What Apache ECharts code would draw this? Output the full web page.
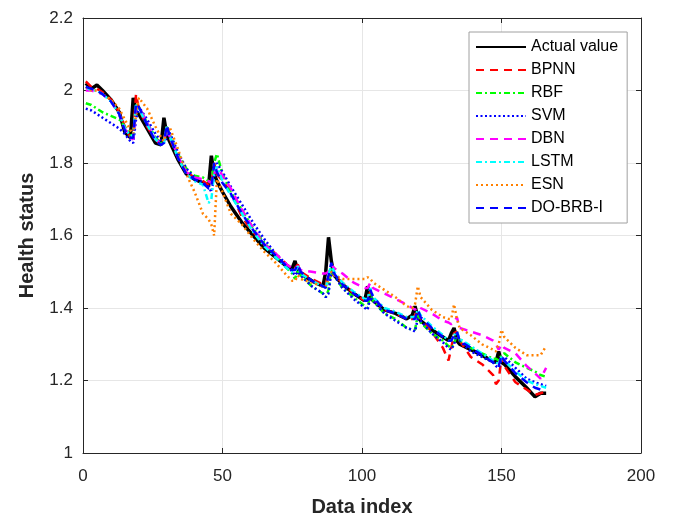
<!DOCTYPE html>
<html>
<head>
<meta charset="utf-8">
<script src="https://cdn.jsdelivr.net/npm/echarts@6/dist/echarts.min.js"></script>
<style>
html, body { margin: 0; padding: 0; background: #fff; }
#chart { width: 673px; height: 522px; }
</style>
</head>
<body>
<div id="chart"></div>
<script>
// data index positions shared by every series
const dataIndex = [
  1, 3, 5, 7, 10, 13, 15, 17, 18, 19,
  20, 23, 26, 28, 29, 30, 31, 34, 37, 40,
  43, 45, 46, 47, 48, 50, 53, 57, 61, 65,
  69, 73, 75, 76, 77, 78, 82, 86, 87, 88,
  89, 90, 93, 97, 101, 102, 103, 104, 108, 112,
  116, 118, 119, 120, 121, 125, 129, 131, 132, 133,
  134, 135, 139, 143, 147, 148, 149, 150, 151, 155,
  159, 162, 164, 166
]

const actualValue = [
  2.02, 2.005, 2.015, 2.0, 1.975, 1.94, 1.885, 1.87, 1.98, 1.94,
  1.935, 1.895, 1.855, 1.85, 1.925, 1.88, 1.86, 1.81, 1.77, 1.755,
  1.745, 1.735, 1.82, 1.77, 1.75, 1.72, 1.68, 1.635, 1.6, 1.565,
  1.54, 1.515, 1.51, 1.53, 1.5, 1.495, 1.475, 1.46, 1.5, 1.595,
  1.53, 1.49, 1.465, 1.44, 1.42, 1.46, 1.43, 1.42, 1.395, 1.385,
  1.37, 1.38, 1.405, 1.375, 1.365, 1.34, 1.32, 1.31, 1.33, 1.345,
  1.31, 1.3, 1.285, 1.27, 1.252, 1.25, 1.28, 1.25, 1.245, 1.21,
  1.18, 1.155, 1.165, 1.165
]

const bpnn = [
  2.025, 2.01, 2.005, 1.995, 1.975, 1.94, 1.9, 1.87, 1.87, 1.99,
  1.95, 1.9, 1.865, 1.85, 1.86, 1.9, 1.87, 1.815, 1.775, 1.76,
  1.75, 1.74, 1.74, 1.8, 1.77, 1.75, 1.72, 1.65, 1.61, 1.575,
  1.55, 1.52, 1.51, 1.51, 1.52, 1.5, 1.48, 1.465, 1.46, 1.5,
  1.5, 1.49, 1.47, 1.44, 1.42, 1.42, 1.445, 1.425, 1.395, 1.385,
  1.37, 1.37, 1.38, 1.395, 1.37, 1.335, 1.29, 1.255, 1.29, 1.33,
  1.335, 1.31, 1.265, 1.245, 1.215, 1.19, 1.2, 1.265, 1.24, 1.195,
  1.175, 1.16, 1.165, 1.17
]

const rbf = [
  1.965, 1.96, 1.95, 1.94, 1.93, 1.92, 1.9, 1.875, 1.88, 1.96,
  1.955, 1.91, 1.87, 1.855, 1.86, 1.9, 1.88, 1.825, 1.785, 1.765,
  1.76, 1.75, 1.745, 1.8, 1.825, 1.77, 1.72, 1.67, 1.62, 1.58,
  1.545, 1.51, 1.495, 1.48, 1.505, 1.49, 1.46, 1.44, 1.43, 1.45,
  1.51, 1.49, 1.455, 1.43, 1.405, 1.4, 1.44, 1.42, 1.385, 1.37,
  1.345, 1.34, 1.34, 1.38, 1.36, 1.33, 1.31, 1.295, 1.29, 1.3,
  1.33, 1.31, 1.29, 1.275, 1.26, 1.26, 1.255, 1.27, 1.275, 1.25,
  1.235, 1.225, 1.215, 1.21
]

const svm = [
  1.95, 1.945, 1.935, 1.925, 1.91, 1.895, 1.88, 1.86, 1.855, 1.92,
  1.955, 1.92, 1.88, 1.86, 1.855, 1.87, 1.885, 1.83, 1.785, 1.76,
  1.745, 1.735, 1.72, 1.76, 1.8, 1.775, 1.735, 1.685, 1.635, 1.59,
  1.55, 1.52, 1.5, 1.49, 1.5, 1.49, 1.46, 1.44, 1.43, 1.44,
  1.5, 1.49, 1.455, 1.425, 1.4, 1.395, 1.43, 1.42, 1.385, 1.365,
  1.345, 1.34, 1.335, 1.37, 1.365, 1.33, 1.305, 1.29, 1.285, 1.3,
  1.33, 1.31, 1.28, 1.265, 1.25, 1.24, 1.235, 1.26, 1.265, 1.235,
  1.205, 1.195, 1.19, 1.185
]

const dbn = [
  2.0, 2.0, 1.995, 1.99, 1.97, 1.935, 1.895, 1.87, 1.865, 1.95,
  1.955, 1.91, 1.865, 1.855, 1.86, 1.895, 1.875, 1.82, 1.775, 1.76,
  1.755, 1.75, 1.745, 1.77, 1.79, 1.765, 1.73, 1.67, 1.62, 1.575,
  1.55, 1.52, 1.51, 1.51, 1.515, 1.505, 1.5, 1.495, 1.495, 1.5,
  1.52, 1.51, 1.495, 1.47, 1.455, 1.455, 1.47, 1.455, 1.44, 1.425,
  1.41, 1.4, 1.395, 1.405, 1.4, 1.385, 1.365, 1.36, 1.355, 1.36,
  1.375, 1.345, 1.335, 1.325, 1.31, 1.3, 1.285, 1.3, 1.29, 1.275,
  1.24, 1.22, 1.205, 1.235
]

const lstm = [
  2.01, 2.0, 2.0, 1.99, 1.97, 1.935, 1.895, 1.875, 1.875, 1.96,
  1.95, 1.905, 1.865, 1.85, 1.855, 1.9, 1.875, 1.815, 1.77, 1.75,
  1.74, 1.69, 1.7, 1.77, 1.79, 1.75, 1.71, 1.66, 1.61, 1.57,
  1.54, 1.51, 1.5, 1.5, 1.515, 1.495, 1.475, 1.46, 1.455, 1.49,
  1.52, 1.5, 1.47, 1.445, 1.425, 1.425, 1.455, 1.43, 1.4, 1.39,
  1.375, 1.375, 1.375, 1.395, 1.38, 1.35, 1.325, 1.31, 1.31, 1.325,
  1.335, 1.315, 1.295, 1.275, 1.255, 1.25, 1.245, 1.265, 1.255, 1.225,
  1.2, 1.19, 1.185, 1.18
]

const esn = [
  2.01, 2.0, 2.0, 1.99, 1.975, 1.95, 1.92, 1.89, 1.88, 1.93,
  1.98, 1.95, 1.9, 1.87, 1.86, 1.89, 1.9, 1.84, 1.77, 1.72,
  1.66, 1.645, 1.63, 1.6, 1.755, 1.72, 1.66, 1.63, 1.59, 1.555,
  1.525, 1.49, 1.475, 1.475, 1.49, 1.48, 1.47, 1.46, 1.46, 1.48,
  1.5, 1.49, 1.48, 1.48, 1.48, 1.485, 1.48, 1.47, 1.45, 1.43,
  1.405, 1.4, 1.41, 1.46, 1.43, 1.395, 1.375, 1.37, 1.37, 1.41,
  1.37, 1.345, 1.325, 1.3, 1.285, 1.28, 1.3, 1.34, 1.32, 1.29,
  1.27, 1.27, 1.27, 1.295
]

const doBrbI = [
  2.01, 2.005, 2.0, 1.99, 1.97, 1.935, 1.89, 1.87, 1.87, 1.965,
  1.955, 1.905, 1.86, 1.85, 1.855, 1.905, 1.875, 1.815, 1.77, 1.755,
  1.745, 1.73, 1.73, 1.8, 1.775, 1.745, 1.715, 1.66, 1.615, 1.575,
  1.545, 1.515, 1.505, 1.505, 1.52, 1.5, 1.475, 1.46, 1.455, 1.49,
  1.525, 1.495, 1.465, 1.44, 1.42, 1.42, 1.45, 1.43, 1.395, 1.385,
  1.37, 1.37, 1.37, 1.395, 1.375, 1.345, 1.32, 1.31, 1.31, 1.325,
  1.335, 1.31, 1.29, 1.27, 1.25, 1.245, 1.24, 1.27, 1.255, 1.22,
  1.195, 1.18, 1.175, 1.175
]

const xTicks = [0, 50, 100, 150, 200]
const yTicks = [1, 1.2, 1.4, 1.6, 1.8, 2, 2.2]

const font = 'Liberation Sans, Arial, sans-serif'

function pairs (ys) {
  return dataIndex.map((x, i) => [x, ys[i]])
}

function makeLine (name, ys, color, width, dash) {
  return {
    name: name,
    type: 'line',
    data: pairs(ys),
    symbol: 'none',
    showSymbol: false,
    animation: false,
    lineStyle: {
      color: color,
      width: width,
      type: dash
    },
    itemStyle: { color: color }
  }
}

const axisColor = '#262626'

const chart = echarts.init(document.getElementById('chart'))

chart.setOption({
  animation: false,
  backgroundColor: '#fff',
  grid: {
    left: 83,
    right: 32,
    top: 18,
    bottom: 67
  },
  legend: {
    orient: 'vertical',
    left: 469,
    top: 32,
    itemWidth: 50,
    itemHeight: 13,
    itemGap: 7,
    padding: [7, 9, 7, 6],
    borderColor: '#a0a0a0',
    borderWidth: 1,
    backgroundColor: '#fff',
    itemStyle: { opacity: 0, borderWidth: 0 },
    textStyle: {
      fontFamily: font,
      fontSize: 16,
      color: '#000'
    },
    data: ['Actual value', 'BPNN', 'RBF', 'SVM', 'DBN', 'LSTM', 'ESN', 'DO-BRB-I']
  },
  xAxis: [
    {
      type: 'value',
      min: xTicks[0],
      max: xTicks[xTicks.length - 1],
      interval: 50,
      name: 'Data index',
      nameLocation: 'middle',
      nameGap: 44,
      nameTextStyle: {
        fontFamily: font,
        fontSize: 20,
        fontWeight: 'bold',
        color: axisColor
      },
      axisLine: { lineStyle: { color: axisColor, width: 1 } },
      axisTick: { inside: true, length: 5, lineStyle: { color: axisColor } },
      axisLabel: {
        fontFamily: font,
        fontSize: 17,
        color: axisColor,
        margin: 15
      },
      splitLine: { show: true, lineStyle: { color: '#e6e6e6', width: 1 } }
    },
    {
      type: 'value',
      position: 'top',
      min: xTicks[0],
      max: xTicks[xTicks.length - 1],
      interval: 50,
      axisLine: { show: true, onZero: false, lineStyle: { color: axisColor, width: 1 } },
      axisTick: { show: true, inside: true, length: 5, lineStyle: { color: axisColor } },
      axisLabel: { show: false },
      splitLine: { show: false }
    }
  ],
  yAxis: [
    {
      type: 'value',
      min: yTicks[0],
      max: yTicks[yTicks.length - 1],
      interval: 0.2,
      name: 'Health status',
      nameLocation: 'middle',
      nameGap: 46,
      nameRotate: 90,
      nameTextStyle: {
        fontFamily: font,
        fontSize: 20,
        fontWeight: 'bold',
        color: axisColor
      },
      axisLine: { show: true, lineStyle: { color: axisColor, width: 1 } },
      axisTick: { show: true, inside: true, length: 5, lineStyle: { color: axisColor } },
      axisLabel: {
        fontFamily: font,
        fontSize: 17,
        color: axisColor,
        margin: 10,
        formatter: v => String(Math.round(v * 10) / 10)
      },
      splitLine: { show: true, lineStyle: { color: '#e6e6e6', width: 1 } }
    },
    {
      type: 'value',
      position: 'right',
      min: yTicks[0],
      max: yTicks[yTicks.length - 1],
      interval: 0.2,
      axisLine: { show: true, onZero: false, lineStyle: { color: axisColor, width: 1 } },
      axisTick: { show: true, inside: true, length: 5, lineStyle: { color: axisColor } },
      axisLabel: { show: false },
      splitLine: { show: false }
    }
  ],
  series: [
    makeLine('Actual value', actualValue, '#000000', 3.5, 'solid'),
    makeLine('BPNN', bpnn, '#ff0000', 2.5, [8, 6]),
    makeLine('RBF', rbf, '#00ff00', 2.5, [6, 3, 2, 3]),
    makeLine('SVM', svm, '#0000ff', 2.5, [2, 2.5]),
    makeLine('DBN', dbn, '#ff00ff', 2.5, [8, 6]),
    makeLine('LSTM', lstm, '#00ffff', 2.5, [6, 3, 2, 3]),
    makeLine('ESN', esn, '#ff8000', 2.5, [2, 3]),
    makeLine('DO-BRB-I', doBrbI, '#0000ff', 2.5, [8, 6])
  ]
})
</script>
</body>
</html>
